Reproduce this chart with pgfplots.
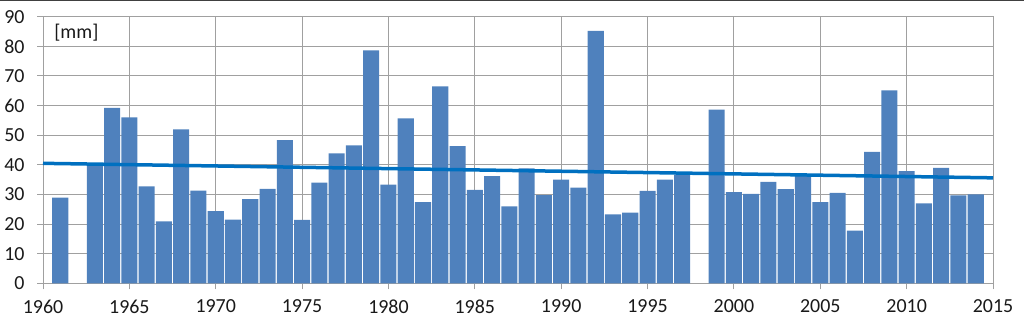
\documentclass[border=0pt]{standalone}
\usepackage{pgfplots}
\pgfplotsset{compat=1.18}
\usepackage{fontspec}
\setmainfont{Carlito}
\definecolor{barblue}{HTML}{4F81BD}
\definecolor{trendblue}{HTML}{0070C0}
\definecolor{gridgray}{HTML}{A0A0A0}
\definecolor{topline}{HTML}{404040}
\begin{document}
\begin{tikzpicture}
\begin{axis}[
  name=ax, at={(0,0)}, anchor=south west,
  scale only axis, width=950bp, height=266.6bp,
  xmin=1960, xmax=2015, ymin=0, ymax=90,
  xtick={1960,1965,...,2015}, ytick={0,10,...,90},
  xtick pos=bottom, ytick pos=left,
  tick align=outside, major tick length=6bp,
  tick style={draw=gridgray, line width=1bp},
  grid=major, major grid style={draw=gridgray, line width=1bp},
  axis line style={draw=gridgray, line width=1bp},
  /pgf/number format/assume math mode=true,
  /pgf/number format/1000 sep={},
  ticklabel style={font=\fontsize{20}{24}\selectfont, text=black!90},
  xticklabel style={yshift=-7bp},
  yticklabel style={xshift=-9bp},
  clip=false,
]
\addplot[ybar, bar width=0.93, fill=barblue, draw=none] coordinates {
(1961,28.9) (1963,40.0) (1964,59.2) (1965,56.0) (1966,32.7) (1967,20.9)
(1968,52.0) (1969,31.3) (1970,24.4) (1971,21.5) (1972,28.4) (1973,31.9)
(1974,48.3) (1975,21.4) (1976,34.0) (1977,43.9) (1978,46.6) (1979,78.6)
(1980,33.3) (1981,55.7) (1982,27.4) (1983,66.5) (1984,46.3) (1985,31.5)
(1986,36.2) (1987,26.0) (1988,38.8) (1989,29.8) (1990,35.0) (1991,32.3)
(1992,85.2) (1993,23.3) (1994,23.9) (1995,31.2) (1996,35.0) (1997,36.7)
(1999,58.6) (2000,30.8) (2001,30.2) (2002,34.2) (2003,31.8) (2004,36.8)
(2005,27.4) (2006,30.5) (2007,17.8) (2008,44.4) (2009,65.1) (2010,37.9)
(2011,27.0) (2012,39.0) (2013,29.7) (2014,30.0)
};
\addplot[trendblue, line width=3.5bp, mark=none] coordinates {(1960,40.5) (2015,35.6)};
\node[anchor=west, font=\fontsize{20}{24}\selectfont, text=black!90] at (axis cs:1960.45,84.5) {[mm]};
\end{axis}
\pgfresetboundingbox
\path[use as bounding box] (-43bp,-36.7bp) rectangle (981bp,283.3bp);
\fill[topline] (-43bp,281.8bp) rectangle (981bp,283.3bp);
\end{tikzpicture}
\end{document}
